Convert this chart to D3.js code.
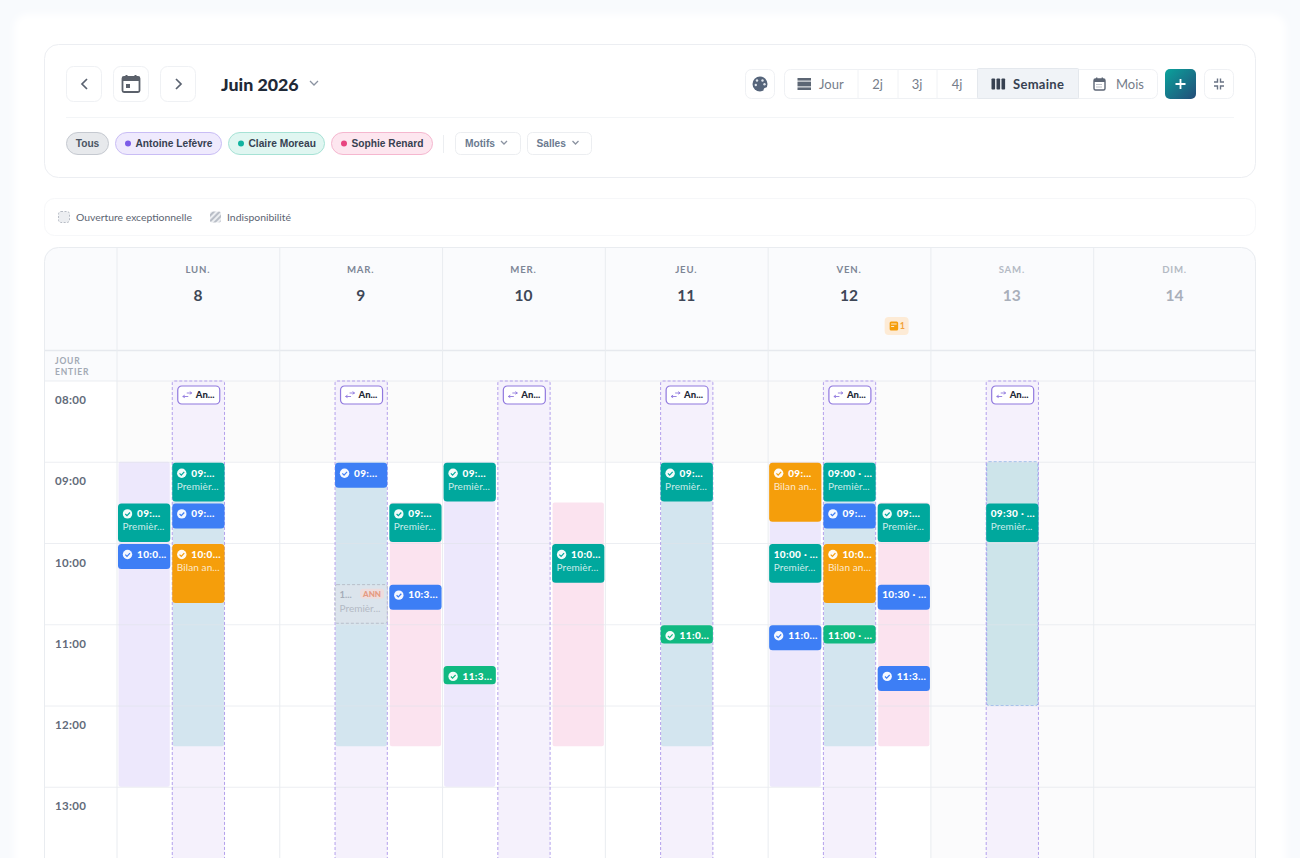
<!DOCTYPE html>
<html>
<head>
<meta charset="utf-8">
<script src="https://cdn.jsdelivr.net/npm/d3@7"></script>
<style>
html, body { margin: 0; padding: 0; background: #f8fafd; overflow: hidden; }
text { font-family: Lato, sans-serif; }
.pillText { font-family: "Liberation Sans", Arial, sans-serif; font-weight: 700; }
</style>
</head>
<body>
<div id="calendar"></div>
<script>
// calendar content
var dayNames = ["LUN.", "MAR.", "MER.", "JEU.", "VEN.", "SAM.", "DIM."];
var dayNumbers = ["8", "9", "10", "11", "12", "13", "14"];
var hourLabels = [8, 9, 10, 11, 12, 13];
var lanes = ["Antoine", "Claire", "Sophie"];
var motifs = ["premiere", "suivi", "bilan", "urgence"];
var motifMinutes = [30, 20, 45, 15];
var motifTitles = ["Premièr...", "", "Bilan an...", ""];

// practitioner working hours: [day, lane, start, end]
var openings = [
    ["LUN.", "Antoine", 9, 13],
    ["LUN.", "Claire", 9, 12.5],
    ["MAR.", "Claire", 9, 12.5],
    ["MAR.", "Sophie", 9.5, 12.5],
    ["MER.", "Antoine", 9, 13],
    ["MER.", "Sophie", 9.5, 12.5],
    ["JEU.", "Claire", 9, 12.5],
    ["VEN.", "Antoine", 9, 13],
    ["VEN.", "Claire", 9, 12.5],
    ["VEN.", "Sophie", 9.5, 12.5],
    ["SAM.", "Claire", 9, 12]
];
// exceptional openings, "An..." badge on top: [day, lane, start, end]
var exceptions = [
    ["LUN.", "Claire", 8, 14],
    ["MAR.", "Claire", 8, 14],
    ["MER.", "Claire", 8, 14],
    ["JEU.", "Claire", 8, 14],
    ["VEN.", "Claire", 8, 14],
    ["SAM.", "Claire", 8, 14]
];
// appointments: [day, lane, start, motif, time label, confirmed]
var appointments = [
    ["LUN.", "Antoine", 9.5, "premiere", "09:...", true],
    ["LUN.", "Antoine", 10, "suivi", "10:0...", true],
    ["LUN.", "Claire", 9, "premiere", "09:...", true],
    ["LUN.", "Claire", 9.5, "suivi", "09:...", true],
    ["LUN.", "Claire", 10, "bilan", "10:0...", true],
    ["MAR.", "Claire", 9, "suivi", "09:...", true],
    ["MAR.", "Sophie", 9.5, "premiere", "09:...", true],
    ["MAR.", "Sophie", 10.5, "suivi", "10:3...", true],
    ["MER.", "Antoine", 9, "premiere", "09:...", true],
    ["MER.", "Antoine", 11.5, "urgence", "11:3...", true],
    ["MER.", "Sophie", 10, "premiere", "10:0...", true],
    ["JEU.", "Claire", 9, "premiere", "09:...", true],
    ["JEU.", "Claire", 11, "urgence", "11:0...", true],
    ["VEN.", "Antoine", 9, "bilan", "09:...", true],
    ["VEN.", "Antoine", 10, "premiere", "10:00 · ...", false],
    ["VEN.", "Antoine", 11, "suivi", "11:0...", true],
    ["VEN.", "Claire", 9, "premiere", "09:00 · ...", false],
    ["VEN.", "Claire", 9.5, "suivi", "09:...", true],
    ["VEN.", "Claire", 10, "bilan", "10:0...", true],
    ["VEN.", "Claire", 11, "urgence", "11:00 · ...", false],
    ["VEN.", "Sophie", 9.5, "premiere", "09:...", true],
    ["VEN.", "Sophie", 10.5, "suivi", "10:30 · ...", false],
    ["VEN.", "Sophie", 11.5, "suivi", "11:3...", true],
    ["SAM.", "Claire", 9.5, "premiere", "09:30 · ...", false]
];
// cancelled one
var cancelled = [["MAR.", "Claire", 10.5, "premiere", "1...", "ANN"]];

var width = 1300, height = 858;
var gridLeft = 116.5, gridRight = 1256, gridTop = 380.5;

var xDay = d3.scaleBand().domain(dayNames).range([gridLeft, gridRight]);
var xLane = d3.scaleBand().domain(lanes).range([0.5, xDay.bandwidth() + 0.5]);
var yTime = d3.scaleLinear().domain([8, 14]).range([gridTop, gridTop + 6 * 81.25]);

var laneFill = d3.scaleOrdinal().domain(lanes).range(["#ede8fc", "#d3e5ef", "#fbe3ef"]);
var motifColor = d3.scaleOrdinal().domain(motifs).range(["#00a89d", "#3d7ef5", "#f59e0b", "#10b981"]);
var motifDuration = d3.scaleOrdinal().domain(motifs).range(motifMinutes);
var motifTitle = d3.scaleOrdinal().domain(motifs).range(motifTitles);

function laneX(d) { return xDay(d[0]) + xLane(d[1]); }
function minutesHeight(start, minutes) { return yTime(start + minutes / 60) - yTime(start); }

var svg = d3.select("#calendar").append("svg")
    .attr("width", width)
    .attr("height", height)
    .style("display", "block");

var defs = svg.append("defs");
var grad = defs.append("linearGradient").attr("id", "addGrad")
    .attr("x1", 0).attr("y1", 0).attr("x2", 1).attr("y2", 1);
grad.append("stop").attr("offset", "0%").attr("stop-color", "#0aa39c");
grad.append("stop").attr("offset", "100%").attr("stop-color", "#244c78");
var hatch = defs.append("pattern").attr("id", "hatch")
    .attr("width", 4).attr("height", 4)
    .attr("patternUnits", "userSpaceOnUse")
    .attr("patternTransform", "rotate(45)");
hatch.append("rect").attr("width", 4).attr("height", 4).attr("fill", "#eceef1");
hatch.append("rect").attr("width", 2).attr("height", 4).attr("fill", "#b9bec7");
defs.append("clipPath").attr("id", "calClip").append("rect")
    .attr("x", 44).attr("y", 247).attr("width", 1212).attr("height", 640).attr("rx", 14);
var blur = defs.append("filter").attr("id", "cardBlur");
blur.append("feGaussianBlur").attr("stdDeviation", 3);

// page card
svg.append("rect").attr("x", 14).attr("y", 14).attr("width", 1272).attr("height", 900)
    .attr("rx", 14).attr("fill", "#ffffff").attr("filter", "url(#cardBlur)");

function box(x, y, w, h, r, fill, stroke) {
    return svg.append("rect")
        .attr("x", x + 0.5).attr("y", y + 0.5)
        .attr("width", w - 1).attr("height", h - 1)
        .attr("rx", r)
        .attr("fill", fill)
        .attr("stroke", stroke);
}

function label(parent, x, y, txt, size, weight, color, anchor) {
    return parent.append("text")
        .attr("x", x).attr("y", y)
        .attr("text-anchor", anchor || "start")
        .style("font-size", size + "px")
        .style("font-weight", weight)
        .attr("fill", color)
        .text(txt);
}

function chevron(x, y, s, color) {
    svg.append("path")
        .attr("d", "M" + (x - s) + "," + (y - s / 2) + "L" + x + "," + (y + s / 2) + "L" + (x + s) + "," + (y - s / 2))
        .attr("fill", "none").attr("stroke", color).attr("stroke-width", 1.3);
}

function drawToolbar() {
    box(44, 44, 1212, 134, 14, "#ffffff", "#eceef2");

    box(66, 66, 36, 36, 7, "#ffffff", "#eff1f4");
    box(113, 66, 36, 36, 7, "#ffffff", "#eff1f4");
    box(160, 66, 36, 36, 7, "#ffffff", "#eff1f4");
    svg.append("path").attr("d", "M87,79L82,84L87,89").attr("fill", "none").attr("stroke", "#5a6270").attr("stroke-width", 1.7);
    svg.append("path").attr("d", "M176,79L181,84L176,89").attr("fill", "none").attr("stroke", "#5a6270").attr("stroke-width", 1.7);
    // calendar icon
    svg.append("path").attr("d", "M124,77h14a1.5,1.5 0 0 1 1.5,1.5v12a1.5,1.5 0 0 1 -1.5,1.5h-14a1.5,1.5 0 0 1 -1.5,-1.5v-12a1.5,1.5 0 0 1 1.5,-1.5z")
        .attr("fill", "none").attr("stroke", "#5b616b").attr("stroke-width", 1.8);
    svg.append("rect").attr("x", 123).attr("y", 77).attr("width", 16).attr("height", 4).attr("fill", "#5b616b");
    svg.append("rect").attr("x", 125.5).attr("y", 75).attr("width", 2).attr("height", 3).attr("fill", "#5b616b");
    svg.append("rect").attr("x", 134.5).attr("y", 75).attr("width", 2).attr("height", 3).attr("fill", "#5b616b");
    svg.append("rect").attr("x", 126).attr("y", 84).attr("width", 4).attr("height", 4).attr("fill", "#5b616b");

    label(svg, 221, 90.5, "Juin 2026", 17.8, 900, "#1f2937");
    chevron(314, 83, 4, "#8b93a1");

    // palette
    box(745, 69, 30, 30, 6, "#ffffff", "#eff1f4");
    svg.append("circle").attr("cx", 760).attr("cy", 84).attr("r", 7.5).attr("fill", "#55647a");
    svg.append("circle").attr("cx", 766.5).attr("cy", 90.5).attr("r", 3).attr("fill", "#ffffff");
    [[757, 80.5], [762.5, 80.5], [755.8, 85], [764.5, 84.2]].forEach(function(p) {
        svg.append("circle").attr("cx", p[0]).attr("cy", p[1]).attr("r", 1.2).attr("fill", "#dfe4ea");
    });

    // view switch
    box(784, 69, 374, 30, 6, "#ffffff", "#eff1f4");
    box(977, 68, 102, 31, 1, "#f0f3f7", "#e4e8ed");
    [858, 898, 937].forEach(function(x) {
        svg.append("line").attr("x1", x).attr("x2", x).attr("y1", 69).attr("y2", 99).attr("stroke", "#f0f2f5");
    });
    label(svg, 819, 89, "Jour", 13, 400, "#757d8a");
    label(svg, 877.5, 89, "2j", 13, 400, "#757d8a", "middle");
    label(svg, 917, 89, "3j", 13, 400, "#757d8a", "middle");
    label(svg, 957, 89, "4j", 13, 400, "#757d8a", "middle");
    label(svg, 1013, 89, "Semaine", 13, 700, "#374151").style("letter-spacing", "0.3px");
    label(svg, 1116, 89, "Mois", 13, 400, "#757d8a");
    [[78, 2.6], [81.6, 4.8], [87.4, 2.6]].forEach(function(b) {
        svg.append("rect").attr("x", 797.5).attr("y", b[0]).attr("width", 13.5).attr("height", b[1]).attr("fill", "#5c6674");
    });
    [991.5, 996.5, 1001.5].forEach(function(x) {
        svg.append("rect").attr("x", x).attr("y", 78.5).attr("width", 3.6).attr("height", 11).attr("rx", 0.8).attr("fill", "#374151");
    });
    svg.append("rect").attr("x", 1094).attr("y", 79).attr("width", 11).attr("height", 11).attr("rx", 1.5)
        .attr("fill", "none").attr("stroke", "#5d6675").attr("stroke-width", 1.4);
    svg.append("rect").attr("x", 1094).attr("y", 79).attr("width", 11).attr("height", 3).attr("fill", "#5d6675");
    svg.append("rect").attr("x", 1096).attr("y", 77.5).attr("width", 1.4).attr("height", 2).attr("fill", "#5d6675");
    svg.append("rect").attr("x", 1101.6).attr("y", 77.5).attr("width", 1.4).attr("height", 2).attr("fill", "#5d6675");
    svg.append("path").attr("d", "M1096.5,84.5h6M1096.5,87h6").attr("stroke", "#7d8593").attr("stroke-dasharray", "1 1");

    // add + compress
    svg.append("rect").attr("x", 1165).attr("y", 69).attr("width", 31).attr("height", 30).attr("rx", 5).attr("fill", "url(#addGrad)");
    svg.append("path").attr("d", "M1180.5,79v10M1175.5,84h10").attr("stroke", "#ffffff").attr("stroke-width", 1.8);
    box(1204, 69, 30, 30, 6, "#ffffff", "#eff1f4");
    svg.append("path").attr("d", "M1214,82h3.5v-3.5M1224,82h-3.5v-3.5M1214,86h3.5v3.5M1224,86h-3.5v3.5")
        .attr("fill", "none").attr("stroke", "#697384").attr("stroke-width", 1.4);

    svg.append("line").attr("x1", 66).attr("x2", 1234).attr("y1", 117.5).attr("y2", 117.5).attr("stroke", "#f3f5f7");

    // filter pills
    box(66, 132, 43, 23, 11.5, "#e7e9ec", "#c5c9d0");
    svg.append("text").attr("class", "pillText").attr("x", 87.5).attr("y", 147).attr("text-anchor", "middle")
        .style("font-size", "10.2px").attr("fill", "#4b5563").text("Tous");
    var pillX = [115, 228, 331], pillW = [107, 97, 102];
    var pillNames = ["Antoine Lefèvre", "Claire Moreau", "Sophie Renard"];
    var pillFill = ["#efeafd", "#e0f6f1", "#fde6ef"], pillLine = ["#c9bdf5", "#a6e2d5", "#f5b7cf"], pillDot = ["#7c5ce8", "#12b3a0", "#e8447f"];
    pillNames.forEach(function(name, i) {
        box(pillX[i], 132, pillW[i], 23, 11.5, pillFill[i], pillLine[i]);
        svg.append("circle").attr("cx", pillX[i] + 13).attr("cy", 143.5).attr("r", 3).attr("fill", pillDot[i]);
        svg.append("text").attr("class", "pillText").attr("x", pillX[i] + 20.5).attr("y", 147)
            .style("font-size", "10.2px").attr("fill", "#374151").text(name);
    });
    svg.append("line").attr("x1", 443.5).attr("x2", 443.5).attr("y1", 135).attr("y2", 153).attr("stroke", "#eceef1");
    box(455, 132, 66, 23, 5, "#ffffff", "#eceef1");
    box(527, 132, 65, 23, 5, "#ffffff", "#eceef1");
    svg.append("text").attr("class", "pillText").attr("x", 465).attr("y", 147).style("font-size", "10.2px").attr("fill", "#6b7a90").text("Motifs");
    svg.append("text").attr("class", "pillText").attr("x", 536.5).attr("y", 147).style("font-size", "10.2px").attr("fill", "#6b7a90").text("Salles");
    chevron(504, 142.5, 3, "#8b93a1");
    chevron(575.5, 142.5, 3, "#8b93a1");

    // legend
    box(44, 198, 1212, 38, 10, "#ffffff", "#f6f7f9");
    svg.append("rect").attr("x", 58.5).attr("y", 211.5).attr("width", 11).attr("height", 11).attr("rx", 2.5)
        .attr("fill", "#eceef1").attr("stroke", "#b7bcc5").attr("stroke-dasharray", "2 1.5");
    label(svg, 76, 220.5, "Ouverture exceptionnelle", 10.4, 400, "#5c6472");
    svg.append("rect").attr("x", 210).attr("y", 211.5).attr("width", 11).attr("height", 11).attr("rx", 2).attr("fill", "url(#hatch)");
    label(svg, 227, 220.5, "Indisponibilité", 10.4, 400, "#5c6472");
}

function drawGrid() {
    var g = svg.append("g").attr("clip-path", "url(#calClip)");
    g.append("rect").attr("x", 44).attr("y", 247).attr("width", 1212).attr("height", 640).attr("fill", "#ffffff");
    g.append("rect").attr("x", 44).attr("y", 247).attr("width", 1212).attr("height", 134).attr("fill", "#fafbfd");
    // morning row and week-end are closed
    g.append("rect").attr("x", gridLeft).attr("y", yTime(8)).attr("width", gridRight - gridLeft)
        .attr("height", yTime(9) - yTime(8)).attr("fill", "#fbfbfb");
    g.selectAll(".weekend").data(["SAM.", "DIM."]).enter().append("rect")
        .attr("class", "weekend")
        .attr("x", function(d) { return xDay(d); })
        .attr("y", yTime(8))
        .attr("width", xDay.bandwidth())
        .attr("height", yTime(14) - yTime(8))
        .attr("fill", "#fbfbfc");

    // exceptional openings sit under the working hours colour
    g.selectAll(".exceptionFill").data(exceptions).enter().append("rect")
        .attr("class", "exceptionFill")
        .attr("x", function(d) { return laneX(d) + 1; })
        .attr("y", function(d) { return yTime(d[2]); })
        .attr("width", xLane.bandwidth() - 2)
        .attr("height", function(d) { return yTime(d[3]) - yTime(d[2]); })
        .attr("fill", "#f5f1fc");

    // working hours
    g.selectAll(".opening").data(openings).enter().append("rect")
        .attr("class", "opening")
        .attr("x", function(d) { return laneX(d) + 1.5; })
        .attr("y", function(d) { return yTime(d[2]); })
        .attr("width", xLane.bandwidth() - 3)
        .attr("height", function(d) { return yTime(d[3]) - yTime(d[2]); })
        .attr("rx", 2)
        .attr("fill", function(d) { return d[0] == "SAM." ? "#cde4ea" : laneFill(d[1]); })
        .attr("stroke", function(d) { return d[0] == "SAM." ? "#8fb4ea" : "none"; })
        .attr("stroke-dasharray", "3 2");

    // hour lines + columns
    g.selectAll(".hourLine").data(hourLabels).enter().append("line")
        .attr("class", "hourLine")
        .attr("x1", 44).attr("x2", gridRight)
        .attr("y1", function(d) { return yTime(d) + 0.5; })
        .attr("y2", function(d) { return yTime(d) + 0.5; })
        .attr("stroke", "#dfe3e9").attr("stroke-opacity", 0.6);
    g.append("line").attr("x1", 44).attr("x2", gridRight).attr("y1", 350.5).attr("y2", 350.5)
        .attr("stroke", "#e6e9ee").attr("stroke-width", 1.5);
    g.selectAll(".dayLine").data(dayNames).enter().append("line")
        .attr("class", "dayLine")
        .attr("x1", function(d) { return xDay(d) + 0.5; })
        .attr("x2", function(d) { return xDay(d) + 0.5; })
        .attr("y1", 247).attr("y2", height)
        .attr("stroke", "#e9ecf0");

    g.selectAll(".exceptionLine").data(exceptions).enter().append("rect")
        .attr("class", "exceptionLine")
        .attr("x", function(d) { return laneX(d) + 1; })
        .attr("y", function(d) { return yTime(d[2]) + 0.5; })
        .attr("width", xLane.bandwidth() - 2)
        .attr("height", function(d) { return yTime(d[3]) - yTime(d[2]); })
        .attr("rx", 2)
        .attr("fill", "none")
        .attr("stroke", "#b3a0ec").attr("stroke-dasharray", "3 2");

    // outline of the calendar
    svg.append("rect").attr("x", 44.5).attr("y", 247.5).attr("width", 1211).attr("height", 640).attr("rx", 14)
        .attr("fill", "none").attr("stroke", "#e9ecf0");

    // day heads
    g.selectAll(".dayName").data(dayNames).enter().append("text")
        .attr("class", "dayName")
        .attr("x", function(d) { return xDay(d) + xDay.bandwidth() / 2; })
        .attr("y", 273)
        .attr("text-anchor", "middle")
        .style("font-size", "9.6px").style("font-weight", 700).style("letter-spacing", "0.8px")
        .attr("fill", function(d, i) { return i > 4 ? "#b4bac4" : "#7d8696"; })
        .text(function(d) { return d; });
    g.selectAll(".dayNumber").data(dayNumbers).enter().append("text")
        .attr("class", "dayNumber")
        .attr("x", function(d, i) { return xDay(dayNames[i]) + xDay.bandwidth() / 2; })
        .attr("y", 301)
        .attr("text-anchor", "middle")
        .style("font-size", "15.5px").style("font-weight", 700)
        .attr("fill", function(d, i) { return i > 4 ? "#a9afba" : "#3e4757"; })
        .text(function(d) { return d; });

    // note badge on friday
    var noteX = xDay("VEN.") + 117;
    g.append("rect").attr("x", noteX).attr("y", 317).attr("width", 24).attr("height", 18).attr("rx", 4).attr("fill", "#fdebd6");
    g.append("rect").attr("x", noteX + 5).attr("y", 321.5).attr("width", 8.5).attr("height", 9).attr("rx", 1.5).attr("fill", "#f59e0b");
    g.append("path").attr("d", "M" + (noteX + 6.5) + ",324h5.5M" + (noteX + 6.5) + ",326.5h3").attr("stroke", "#fff").attr("stroke-width", 0.8);
    label(g, noteX + 15, 329, "1", 9, 700, "#f2a23a");

    // time column
    label(g, 55, 364, "JOUR", 8.5, 700, "#a2a9b4").style("letter-spacing", "0.8px");
    label(g, 55, 374.5, "ENTIER", 8.5, 700, "#a2a9b4").style("letter-spacing", "0.8px");
    g.selectAll(".hourLabel").data(hourLabels).enter().append("text")
        .attr("class", "hourLabel")
        .attr("x", 55)
        .attr("y", function(d) { return yTime(d) + 23.5; })
        .style("font-size", "11.5px").style("font-weight", 700).style("letter-spacing", "0.3px")
        .attr("fill", "#626b7a")
        .text(function(d) { return (d < 10 ? "0" : "") + d + ":00"; });

    return g;
}

function drawBadges(g) {
    var badge = g.selectAll(".badge").data(exceptions).enter().append("g").attr("class", "badge")
        .attr("transform", function(d) { return "translate(" + (laneX(d) + 6) + "," + (yTime(d[2]) + 5) + ")"; });
    badge.append("rect").attr("x", 0.5).attr("y", 0.5).attr("width", 42).attr("height", 18).attr("rx", 4)
        .attr("fill", "#ffffff").attr("stroke", "#9078de").attr("stroke-width", 1.2);
    badge.append("path").attr("d", "M5.5,11h5.5M5.5,11l2,-1.4M5.5,11l2,1.2M14.5,7.5h-5M14.5,7.5l-2,-1.4M14.5,7.5l-2,1.2")
        .attr("fill", "none").attr("stroke", "#9078de").attr("stroke-width", 0.9);
    badge.append("text").attr("x", 18.5).attr("y", 12.5)
        .style("font-size", "9.5px").style("font-weight", 900).attr("fill", "#1f2937").text("An...");
}

function drawAppointments(g) {
    var appt = g.selectAll(".appt").data(appointments).enter().append("g").attr("class", "appt")
        .attr("transform", function(d) { return "translate(" + (laneX(d) + 1) + "," + (yTime(d[2]) + 1) + ")"; });
    appt.append("rect")
        .attr("width", xLane.bandwidth() - 2)
        .attr("height", function(d) { return minutesHeight(d[2], motifDuration(d[3])) - 2; })
        .attr("rx", 3.5)
        .attr("fill", function(d) { return motifColor(d[3]); });
    var ok = appt.filter(function(d) { return d[5]; });
    ok.append("circle").attr("cx", 9.5).attr("cy", 10.5).attr("r", 4.7).attr("fill", "#ffffff").attr("fill-opacity", 0.95);
    ok.append("path").attr("d", "M7.3,10.6l1.7,1.7l3,-3.2").attr("fill", "none")
        .attr("stroke", function(d) { return motifColor(d[3]); }).attr("stroke-width", 1.2);
    appt.append("text")
        .attr("x", function(d) { return d[5] ? 19 : 4.5; })
        .attr("y", 13.8)
        .style("font-size", "10px").style("font-weight", 900).style("letter-spacing", "0.35px")
        .attr("fill", "#ffffff")
        .text(function(d) { return d[4]; });
    appt.append("text")
        .attr("x", 4.5).attr("y", 27)
        .style("font-size", "10px").style("letter-spacing", "0.1px")
        .attr("fill", "#ffffff").attr("fill-opacity", 0.8)
        .text(function(d) { return motifTitle(d[3]); });

    var off = g.selectAll(".cancelled").data(cancelled).enter().append("g").attr("class", "cancelled")
        .attr("transform", function(d) { return "translate(" + (laneX(d) + 1) + "," + (yTime(d[2]) + 1) + ")"; });
    off.append("rect")
        .attr("width", xLane.bandwidth() - 2)
        .attr("height", function(d) { return minutesHeight(d[2], motifDuration(d[3])) - 2; })
        .attr("rx", 2)
        .attr("fill", "#dfe3ea").attr("fill-opacity", 0.65)
        .attr("stroke", "#b9bfca").attr("stroke-dasharray", "3 2");
    off.append("text").attr("x", 4.5).attr("y", 13)
        .style("font-size", "9.5px").style("font-weight", 700).attr("fill", "#a5acb8")
        .text(function(d) { return d[4]; });
    off.append("rect").attr("x", 25).attr("y", 4).attr("width", 24).attr("height", 10).attr("rx", 3).attr("fill", "#eedcdc");
    off.append("text").attr("x", 37).attr("y", 12).attr("text-anchor", "middle")
        .style("font-size", "8px").style("font-weight", 900).attr("fill", "#e59a82")
        .text(function(d) { return d[5]; });
    off.append("text").attr("x", 4.5).attr("y", 27)
        .style("font-size", "10px").attr("fill", "#b3b9c4")
        .text(function(d) { return motifTitle(d[3]); });
}

drawToolbar();
var calendarGroup = drawGrid();
drawBadges(calendarGroup);
drawAppointments(calendarGroup);
</script>
</body>
</html>
